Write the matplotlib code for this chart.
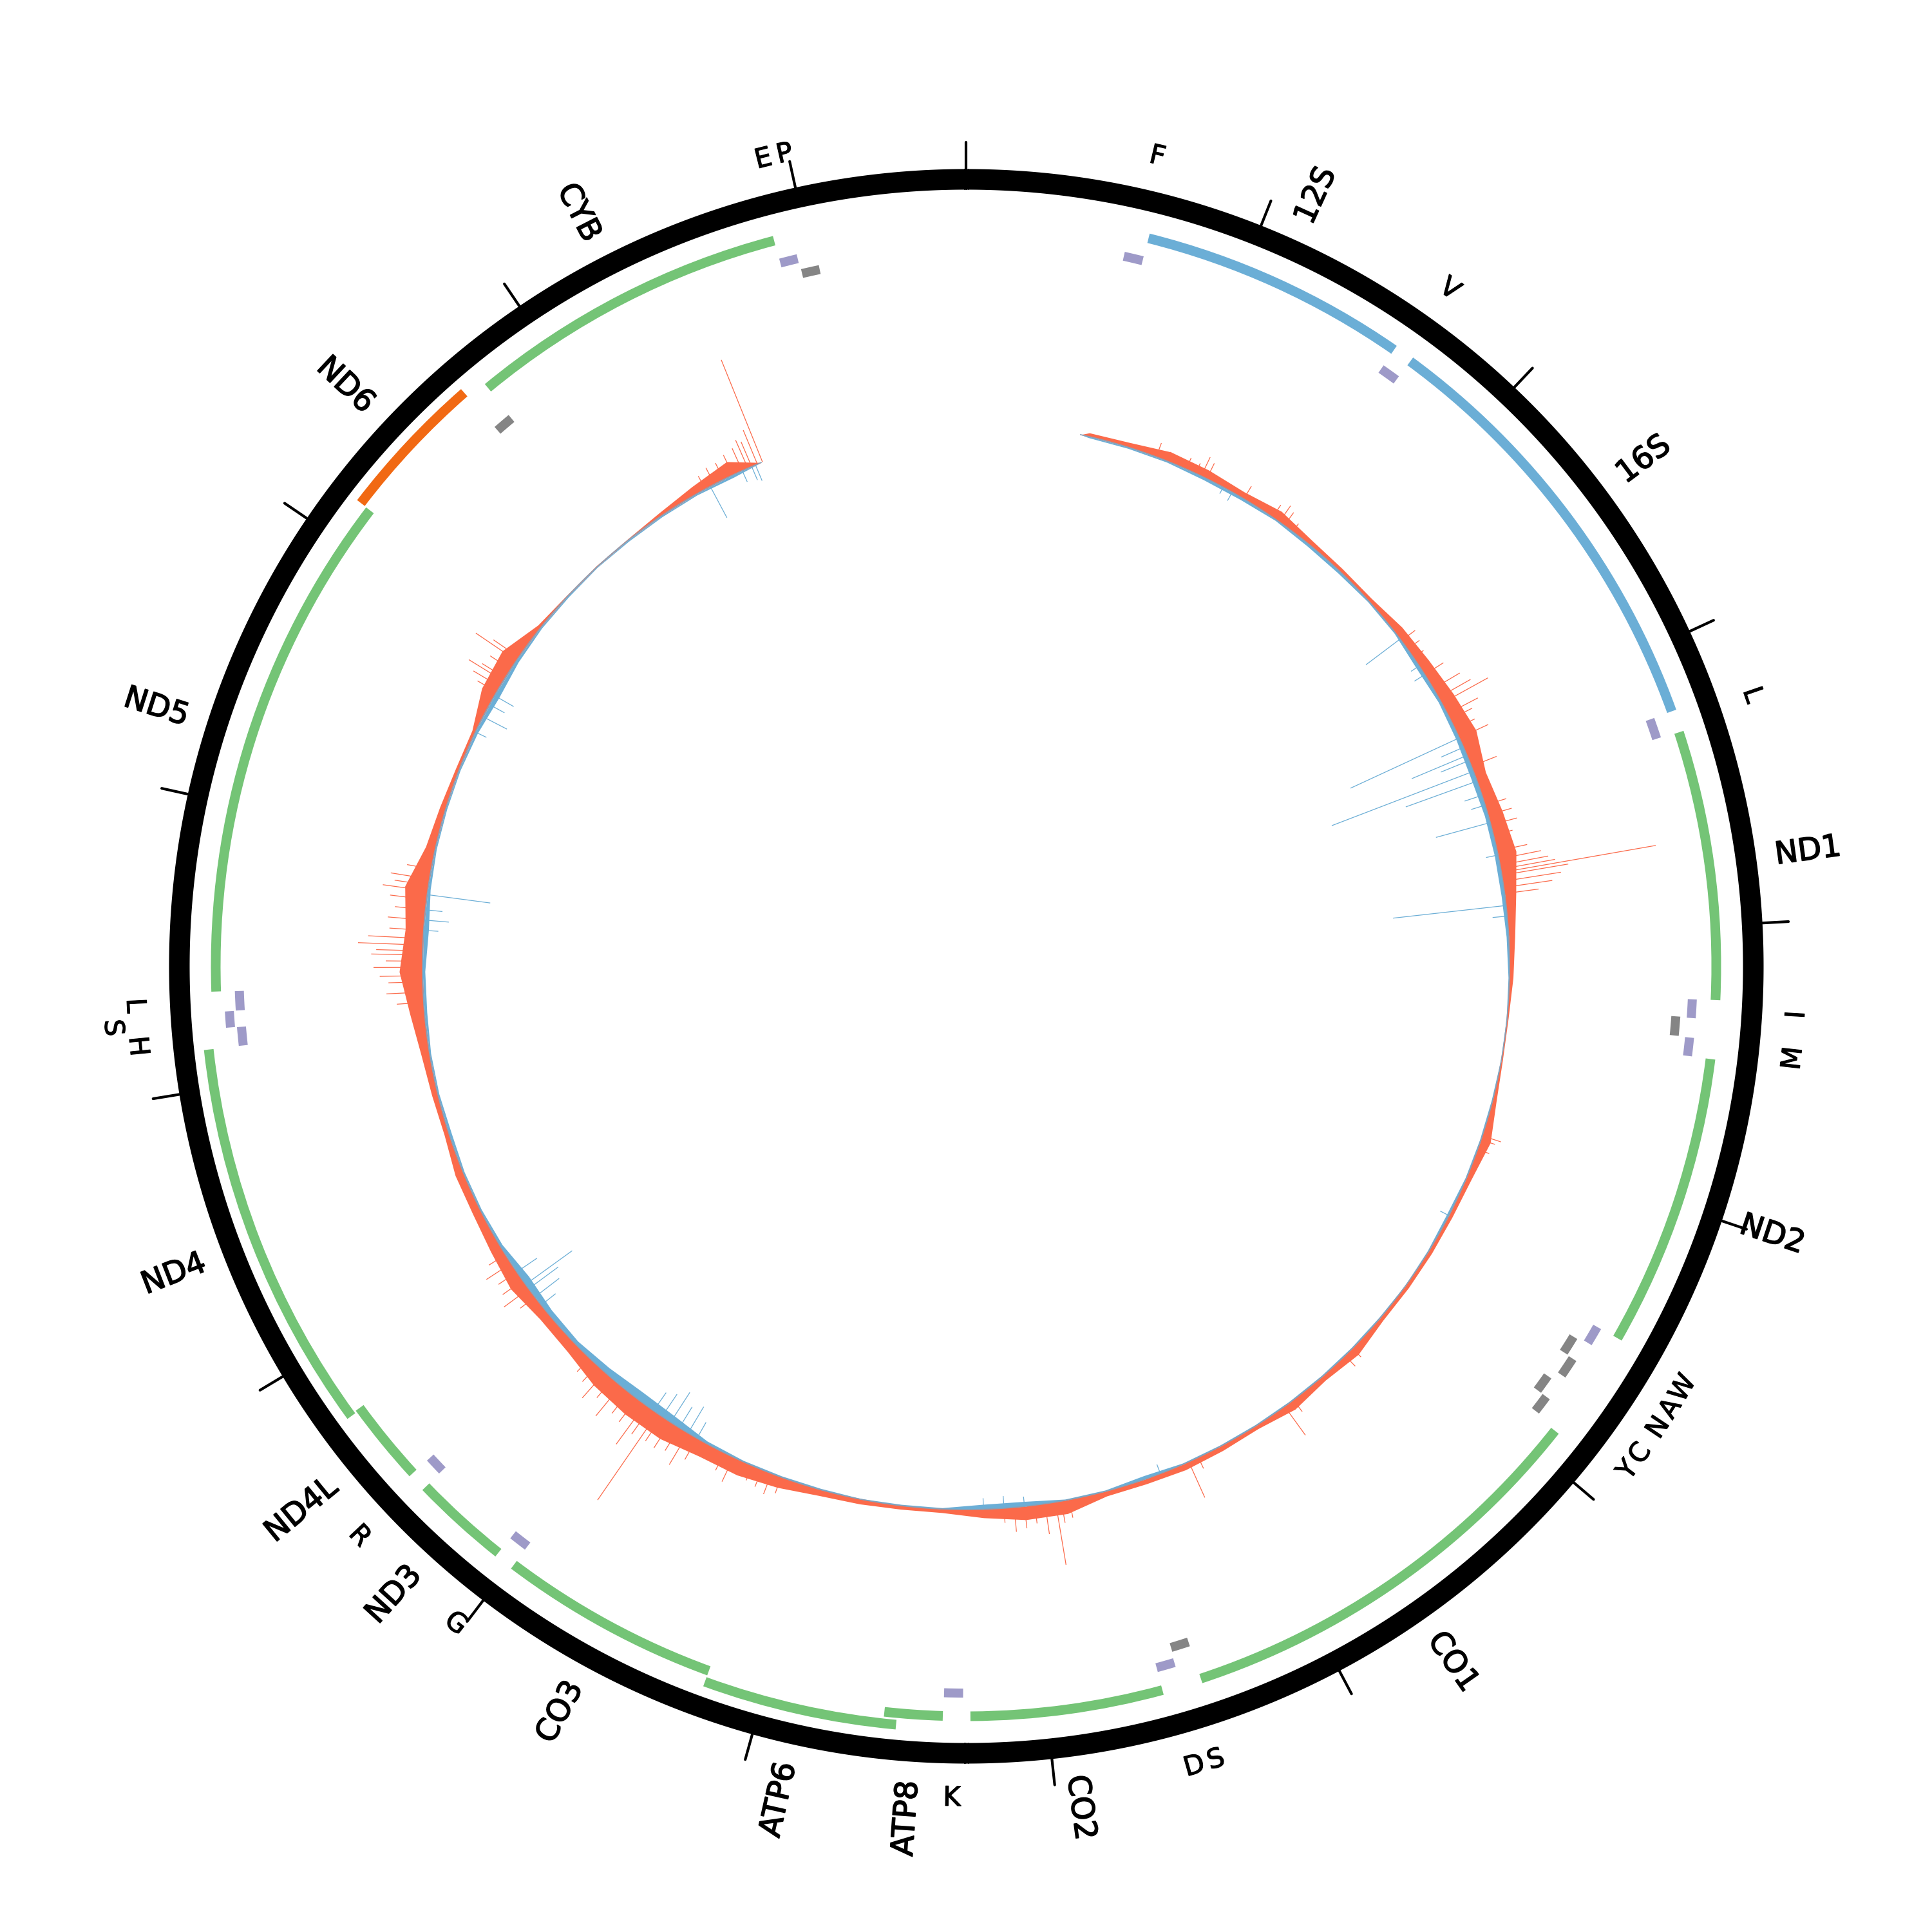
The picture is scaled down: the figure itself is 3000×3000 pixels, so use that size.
import numpy as np
import matplotlib.pyplot as plt
import matplotlib.patheffects as pe

GENOME_LEN = 16569

# protein-coding and rRNA genes
gene_names = ['12S', '16S', 'ND1', 'ND2', 'CO1', 'CO2', 'ATP8', 'ATP6', 'CO3',
              'ND3', 'ND4L', 'ND4', 'ND5', 'ND6', 'CYB']
gene_start = [648, 1671, 3307, 4470, 5904, 7586, 8366, 8527, 9207,
              10059, 10470, 10760, 12337, 14149, 14747]
gene_end = [1601, 3229, 4262, 5511, 7445, 8269, 8572, 9207, 9990,
            10404, 10766, 12137, 14148, 14673, 15887]
gene_type = ['rRNA', 'rRNA', 'H', 'H', 'H', 'H', 'H', 'H', 'H',
             'H', 'H', 'H', 'H', 'L', 'H']

# tRNAs
trna_start = [577, 1602, 3230, 4263, 4329, 4402, 5512, 5587, 5657, 5761, 5826,
              7446, 7518, 8295, 9991, 10405, 12138, 12207, 12266, 14674, 15888, 15956]
trna_end = [647, 1670, 3304, 4331, 4400, 4469, 5579, 5655, 5729, 5826, 5891,
            7514, 7585, 8364, 10058, 10469, 12206, 12265, 12336, 14742, 15953, 16023]
trna_strand = ['H', 'H', 'H', 'H', 'L', 'H', 'H', 'L', 'L', 'L', 'L',
               'L', 'H', 'H', 'H', 'H', 'H', 'H', 'H', 'L', 'H', 'L']
# labels as printed on the map
trna_labels = ['F', 'V', 'L', 'I', '', 'M', 'W', 'A', 'N', 'C', 'Y',
               'S', 'D', 'K', 'G', 'R', 'H', 'S', 'L', '', 'E', 'P']

# signal track (200 bp bins), outward (red) and inward (blue)
data_start, data_end = 560, 15550
bin_pos = np.arange(600, 15401, 200)
red_env = [3, 4, 8, 7, 5, 8, 4, 3, 3, 7, 9, 12, 15, 9, 12, 15, 9, 5, 3, 1,
           1, 3, 8, 4, 3, 3, 3, 3, 7, 4, 7, 3, 4, 5, 4, 4, 11, 11, 7, 3,
           3, 4, 5, 9, 12, 12, 16, 16, 14, 9, 8, 12, 9, 7, 7, 4, 5, 7, 12, 19,
           15, 19, 8, 5, 3, 3, 12, 14, 3, 1, 1, 1, 3, 7, 12]
blue_env = [1, 1, 1, 2, 2, 1, 2, 2, 1, 1, 3, 2, 3, 4, 3, 3, 3, 2, 1, 0.5,
            0.5, 1, 1, 1, 2, 1, 0.5, 1, 1, 1, 1, 1, 1, 1, 3, 1, 1, 4, 4, 1,
            1, 0.5, 1, 1, 1, 2, 6, 7, 5, 3, 4, 6, 2, 1, 1, 2, 1, 1, 2, 2,
            4, 2, 1, 1, 1, 2, 4, 2, 1, 1, 0.5, 1, 1, 1, 2]

red_spike_pos = [943, 1000, 1100, 1150, 1180, 1210, 1415, 1580, 1620, 1650, 1700,
                 2450, 2500, 2550, 2650, 2730, 2780, 2812, 2870, 2900, 2950, 3000,
                 3150, 3350, 3400, 3450, 3500, 3580, 3620, 3650, 3670, 3686, 3700,
                 3730, 3760, 3790, 4980, 5000, 5050, 6200, 6250, 6580, 6633, 7120,
                 7171, 7780, 7820, 7848, 7900, 7950, 8000, 8050, 8100, 9200, 9250,
                 9300, 9350, 9450, 9500, 9650, 9700, 9750, 9800, 9850, 9877, 9920,
                 9950, 10000, 10050, 10100, 10150, 10200, 10250, 10300, 10700,
                 10750, 10800, 10850, 10900, 10950, 12250, 12300, 12350, 12380,
                 12420, 12450, 12480, 12500, 12528, 12560, 12600, 12650, 12700,
                 12750, 12792, 12820, 12850, 12900, 13820, 13850, 13883, 13900,
                 13950, 14000, 14020, 15250, 15300, 15350, 15400, 15450, 15480,
                 15500, 15530, 15557]
red_spike_val = [12, 8, 10, 9, 17, 14, 12, 12, 16, 13, 8,
                 14, 12, 10, 18, 25, 30, 43, 28, 20, 18, 26,
                 22, 18, 20, 22, 16, 25, 35, 40, 45, 128, 55,
                 48, 40, 28, 16, 12, 10, 10, 12, 12, 29, 10,
                 32, 15, 18, 52, 25, 15, 18, 20, 12, 14, 18,
                 15, 13, 22, 16, 20, 30, 22, 25, 24, 86, 26,
                 40, 24, 22, 32, 20, 28, 18, 15, 15,
                 25, 20, 18, 24, 16, 22, 30, 28, 35,
                 40, 30, 42, 38, 53, 45, 28, 30, 25,
                 30, 37, 28, 32, 20, 18, 25, 33, 22,
                 20, 40, 25, 12, 15, 15, 18, 20, 25,
                 22, 30, 90]
blue_spike_pos = [1300, 1350, 2440, 2600, 2650, 3000, 3050, 3093, 3120, 3176, 3227,
                  3300, 3350, 3438, 3600, 3848, 3900, 5400, 7320, 8000, 8100, 8200,
                  9650, 9700, 9750, 9800, 9850, 9900, 10650, 10700, 10750, 10776,
                  10850, 12600, 12650, 12700, 12774, 13600, 13683, 13750, 13800,
                  15277, 15450, 15500, 15520]
blue_spike_val = [6, 8, 35, 8, 10, 98, 20, 49, 25, 124, 62,
                  15, 12, 46, 10, 93, 12, 8, 8, 8, 10, 9,
                  15, 25, 20, 29, 22, 18, 15, 25, 30, 47,
                  20, 12, 20, 14, 52, 10, 22, 14, 18,
                  29, 10, 12, 14]

# colours
c_gene = {'H': '#74c476', 'L': '#f16913', 'rRNA': '#6baed6'}
c_trna = {'H': '#9e9ac8', 'L': '#858585'}
c_up, c_down = '#fb6a4a', '#6baed6'

# radii (axis units = pixels of the 3000 px figure)
R_RING, RING_W = 1222, 32
R_GENE, GENE_W = 1165, 15
R_TRNA = {'H': 1129, 'L': 1105}
TRNA_W, BUMP = 14, 17
R_BASE, SCALE = 844, 1.9


def ang(p):
    return 2 * np.pi * np.asarray(p, dtype=float) / GENOME_LEN


def stack_levels(starts, ends, pad=10):
    level_end = []
    levels = []
    for s, e in zip(starts, ends):
        for i, le in enumerate(level_end):
            if s > le + pad:
                level_end[i] = e
                levels.append(i)
                break
        else:
            level_end.append(e)
            levels.append(len(level_end) - 1)
    return levels


fig = plt.figure(figsize=(10, 10), dpi=300)
ax = fig.add_axes([0, 0, 1, 1], projection='polar')
ax.set_theta_zero_location('N')
ax.set_theta_direction(-1)
ax.set_ylim(0, 1500)
ax.axis('off')

# outer ring + ticks every kb
full = np.linspace(0, 2 * np.pi, 1441)
ax.fill_between(full, R_RING - RING_W / 2, R_RING + RING_W / 2, color='black', lw=0)
for k in range(0, GENOME_LEN, 1000):
    t = ang(k)
    ax.plot([t, t], [R_RING + RING_W / 2, R_RING + RING_W / 2 + 41],
            color='black', lw=1.0, solid_capstyle='round')

# genes
glev = stack_levels(gene_start, gene_end)
for s, e, kind, lv in zip(gene_start, gene_end, gene_type, glev):
    ax.bar(ang(s), GENE_W, width=ang(e) - ang(s), bottom=R_GENE + lv * 18 - GENE_W / 2,
           align='edge', color=c_gene[kind], lw=0)

# tRNAs (stacked per strand)
tlev = [0] * len(trna_start)
for strand in ('H', 'L'):
    idx = [i for i, st in enumerate(trna_strand) if st == strand]
    lv = stack_levels([trna_start[i] for i in idx], [trna_end[i] for i in idx])
    for i, l in zip(idx, lv):
        tlev[i] = l
for s, e, st, lv in zip(trna_start, trna_end, trna_strand, tlev):
    ax.bar(ang(s), TRNA_W, width=ang(e) - ang(s),
           bottom=R_TRNA[st] + lv * BUMP - TRNA_W / 2,
           align='edge', color=c_trna[st], lw=0)

# gene labels (radial)
thick = [pe.withStroke(linewidth=0.4, foreground='black')]
for name, s, e in zip(gene_names, gene_start, gene_end):
    deg = (s + e) / 2 / GENOME_LEN * 360
    if deg < 180:
        rot, ha = 90 - deg, 'left'
    else:
        rot, ha = 270 - deg, 'right'
    ax.text(np.deg2rad(deg), 1268, name, rotation=rot, rotation_mode='anchor',
            ha=ha, va='center', fontsize=11.5, path_effects=thick)

# tRNA labels (tangential)
thin = [pe.withStroke(linewidth=0.3, foreground='black')]
for lab, s, e, st, lv in zip(trna_labels, trna_start, trna_end, trna_strand, tlev):
    if not lab:
        continue
    deg = (s + e) / 2 / GENOME_LEN * 360
    rot = -deg if (deg < 90 or deg > 270) else 180 - deg
    r = 1292 + (36 * lv if st == 'H' else 0)
    ax.text(np.deg2rad(deg), r, lab, rotation=rot, rotation_mode='anchor',
            ha='center', va='center', fontsize=10, path_effects=thin)

# signal track
tb = ang(np.concatenate([[data_start], bin_pos, [data_end]]))
red = np.concatenate([[0], red_env, [0]])
blue = np.concatenate([[0], blue_env, [0]])
ax.fill_between(tb, R_BASE, R_BASE + red * SCALE, color=c_up, lw=0)
ax.fill_between(tb, R_BASE - blue * SCALE, R_BASE, color=c_down, lw=0)
ax.vlines(ang(red_spike_pos), R_BASE, R_BASE + np.array(red_spike_val) * SCALE,
          color=c_up, lw=0.3)
ax.vlines(ang(blue_spike_pos), R_BASE - np.array(blue_spike_val) * SCALE, R_BASE,
          color=c_down, lw=0.3)
tline = np.linspace(ang(data_start), ang(data_end), 800)
ax.plot(tline, np.full_like(tline, R_BASE), color='#8a9fb5', lw=0.4)

fig.savefig('out.png', dpi=300)
